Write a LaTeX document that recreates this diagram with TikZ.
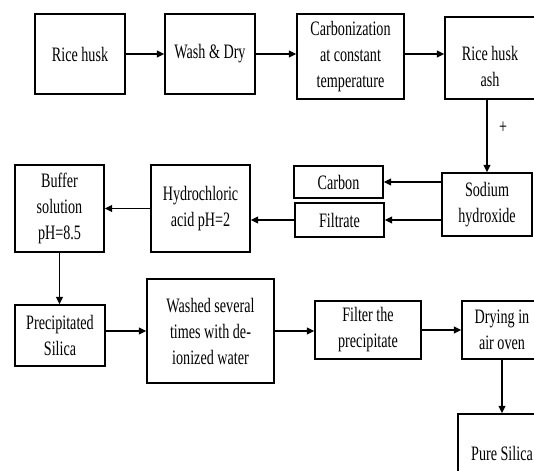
\documentclass[tikz,border=0pt]{standalone}
\usepackage{fontspec}
\setmainfont{Liberation Serif}[FakeStretch=0.69]
\usetikzlibrary{arrows.meta}
\begin{document}
\begin{tikzpicture}[x=1pt, y=-1pt, line width=1.4pt,
  box/.style={draw, rectangle, align=center, inner sep=0pt, font=\fontsize{20.5}{26}\selectfont},
  arr/.style={-{Triangle[length=7.5pt, width=7pt]}}]
\useasboundingbox (0,0) rectangle (534,470);
\clip (0,0) rectangle (534,470);
\node[box, minimum width=90, minimum height=80] (husk) at (80,54){Rice husk};
\node[box, minimum width=90, minimum height=80] (washdry) at (210,54){Wash \& Dry};
\node[box, minimum width=107, minimum height=85] (carb) at (350.5,56.5){Carbonization\\at constant\\temperature};
\node[box, minimum width=90, minimum height=82] (ash) at (490,58){\rule{0pt}{32pt}Rice husk\\ash};
\node[box, minimum width=90, minimum height=63] (naoh) at (487,204.5){Sodium\\hydroxide};
\node[box, minimum width=89, minimum height=32] (carbon) at (338.5,182){Carbon};
\node[box, minimum width=89, minimum height=34] (filtrate) at (339.5,220){Filtrate};
\node[box, minimum width=99, minimum height=87] (hcl) at (200.5,208.5){Hydrochloric\\acid pH=2};
\node[box, minimum width=89, minimum height=87] (buffer) at (59.5,208.5){Buffer\\solution\\pH=8.5};
\node[box, minimum width=90, minimum height=61] (precip) at (60,335.5){Precipitated\\Silica};
\node[box, minimum width=127, minimum height=104] (washed) at (210.5,331){Washed several\\times with de-\\ionized water};
\node[box, minimum width=106, minimum height=58] (filter) at (368,330){Filter the\\precipitate};
\node[box, minimum width=80, minimum height=58] (dry) at (502,330){Drying in\\air oven};
\node[box, minimum width=88, minimum height=78] (pure) at (502,453){Pure Silica};
\draw[arr](husk) -- (washdry);
\draw[arr](washdry.east) -- (washdry.east -| carb.west);
\draw[arr](washdry.east -| carb.east) -- (washdry.east -| ash.west);
\draw[arr](ash.south -| naoh) -- node[pos=0.38, right=8pt, font=\fontsize{20.5}{26}\selectfont]{+} (naoh.north);
\draw[arr](naoh.west |- carbon) -- (carbon.east);
\draw[arr](naoh.west |- filtrate) -- (filtrate.east);
\draw[arr](filtrate.west) -- (filtrate.west -| hcl.east);
\draw[arr](hcl) -- (buffer);
\draw[arr](buffer.south) -- (buffer.south |- precip.north);
\draw[arr](precip.east |- washed) -- (washed.west);
\draw[arr](washed.east) -- (washed.east -| filter.west);
\draw[arr](filter) -- (dry);
\draw[arr](dry.south -| pure) -- (pure.north);
\end{tikzpicture}
\end{document}
